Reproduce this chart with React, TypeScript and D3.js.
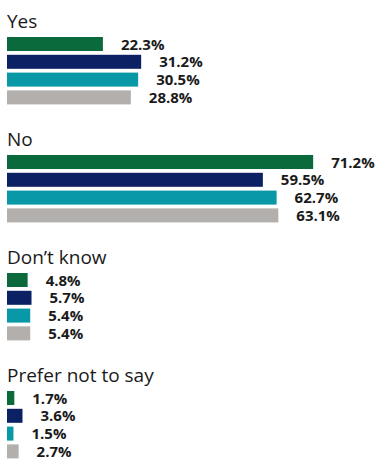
import React from "react";
import * as d3 from "d3";

const categories = ["Yes", "No", "Don\u2019t know", "Prefer not to say"];
const seriesNames = ["S1", "S2", "S3", "S4"];
const seriesColors = ["#0b6a3b", "#0c2164", "#0898a6", "#b2afad"];
const valuesS1 = [22.3, 71.2, 4.8, 1.7];
const valuesS2 = [31.2, 59.5, 5.7, 3.6];
const valuesS3 = [30.5, 62.7, 5.4, 1.5];
const valuesS4 = [28.8, 63.1, 5.4, 2.7];
const seriesValues = [valuesS1, valuesS2, valuesS3, valuesS4];

const W = 380;
const H = 460;

export default function App() {
  const x = d3.scaleLinear().domain([0, 100]).range([7, 437]);
  const groupY = d3.scaleBand<string>().domain(categories).range([37, 37 + 4 * 118]);
  const innerY = d3
    .scaleBand<string>()
    .domain(seriesNames)
    .range([0, 67.4])
    .paddingInner(0.213)
    .paddingOuter(0);
  const font = "'Open Sans', 'Noto Sans', sans-serif";

  return (
    <svg
      width={W}
      height={H}
      style={{ position: "absolute", left: 0, top: 0, display: "block" }}
      fontFamily={font}
    >
      {categories.map((cat, ci) => {
        const g0 = groupY(cat)!;
        return (
          <g key={cat}>
            <text x={7} y={g0 - 9} fontSize={19} fill="#1a1a1a">
              {cat}
            </text>
            {seriesNames.map((s, si) => {
              const v = seriesValues[si][ci];
              const y = g0 + innerY(s)!;
              const h = innerY.bandwidth();
              return (
                <g key={s}>
                  <rect x={x(0)} y={y} width={x(v) - x(0)} height={h} fill={seriesColors[si]} />
                  <text
                    x={x(v) + 18}
                    y={y + h / 2 + 1.5}
                    dominantBaseline="middle"
                    fontSize={15}
                    fontWeight={700}
                    fill="#1a1a1a"
                  >
                    {v.toFixed(1)}%
                  </text>
                </g>
              );
            })}
          </g>
        );
      })}
    </svg>
  );
}
